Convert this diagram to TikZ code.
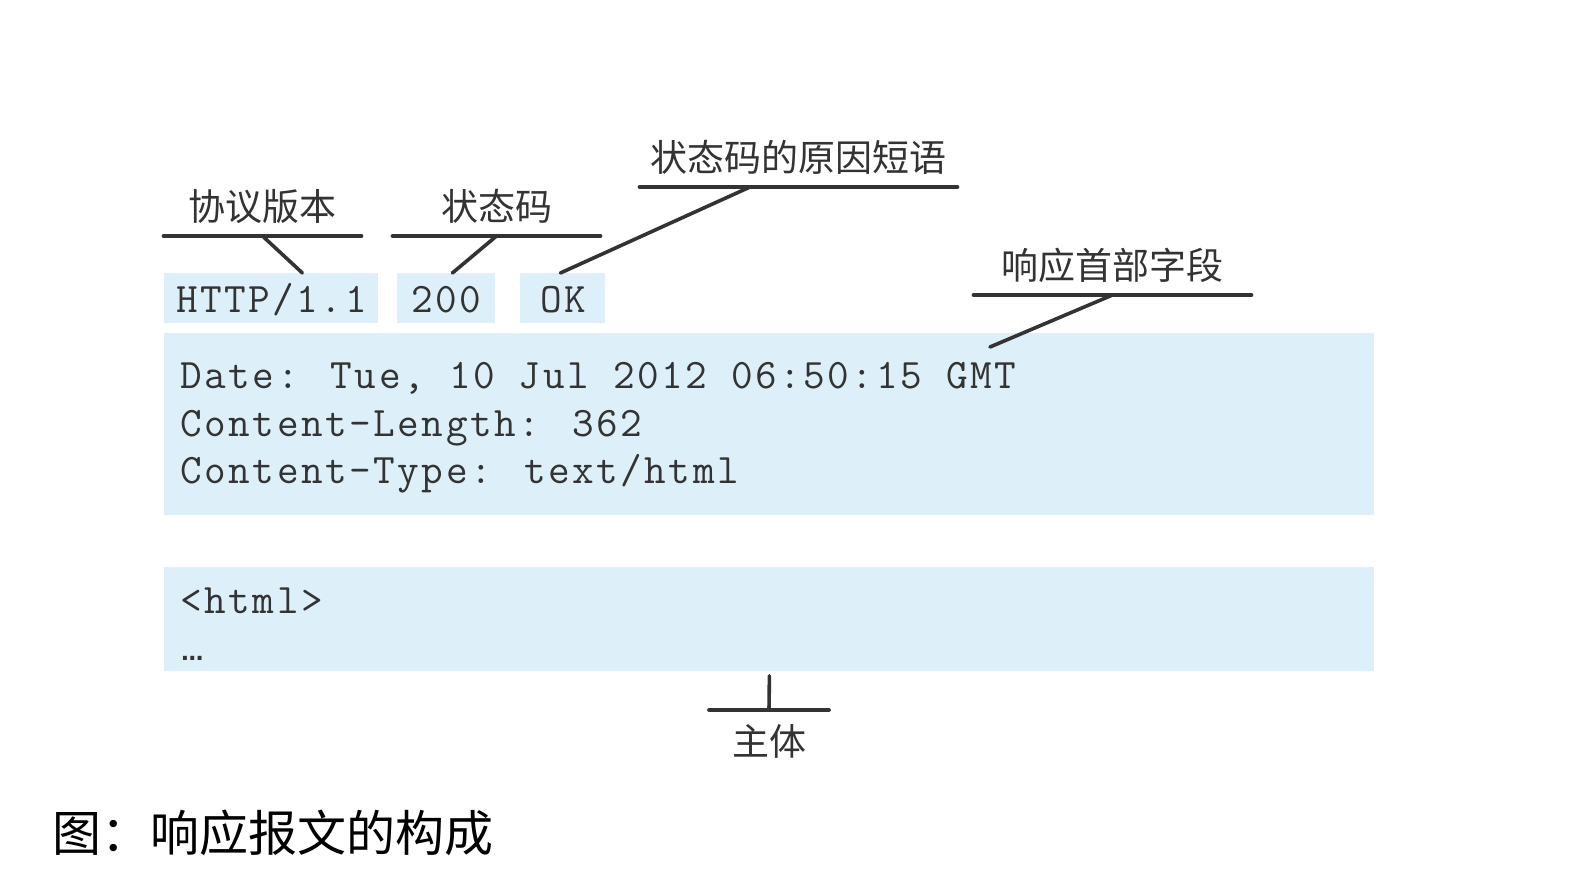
\documentclass[tikz,border=0pt]{standalone}
\usepackage{fontspec}
\newfontfamily\cjk{Noto Sans CJK SC}
\newfontfamily\code{Latin Modern Mono}[LetterSpace=6]
\newfontfamily\dotsfont{DejaVu Sans}
\usetikzlibrary{calc,positioning}
\definecolor{fieldblue}{HTML}{DDEFF9}
\definecolor{labelgray}{HTML}{333333}

\begin{document}
\begin{tikzpicture}[x=0.5pt,y=-0.5pt,
    field/.style={fill=fieldblue,anchor=north west,inner sep=0pt,minimum height=25pt,text=labelgray,
      text height=17pt,text depth=3pt,font=\code\fontsize{21}{24}\selectfont},
    line/.style={anchor=base west,inner sep=0pt,text=labelgray,font=\code\fontsize{21}{24}\selectfont},
    tag/.style={anchor=south,inner sep=0pt,minimum height=29pt,text=labelgray,font=\cjk\fontsize{18.5}{20}\selectfont},
    rule/.style={line width=2pt,line cap=round,labelgray}]
    \useasboundingbox (0,0) rectangle (1570,884);

    % status line
    \node[field,minimum width=107pt] (httpver) at (164,273) {HTTP/1.1};
    \node[field,minimum width=49pt] (code) at (397,273) {200};
    \node[field,minimum width=42.5pt] (phrase) at (520,273) {OK};

    % header fields and body
    \node[field,minimum width=605pt,minimum height=91pt] (headers) at (164,333) {};
    \node[line] (date) at (180,388) {Date: Tue, 10 Jul 2012 06:50:15 GMT};
    \node[line] (clen) at (180,436) {Content-Length: 362};
    \node[line] (ctype) at (180,483) {Content-Type: text/html};
    \node[field,minimum width=605pt,minimum height=52pt] (body) at (164,567) {};
    \node[line] (html) at (180,613) {<html>};
    \node[line,font=\dotsfont\bfseries\fontsize{11}{12}\selectfont] (more) at (181,660) {…};

    % labels
    \node[tag,minimum width=98.5pt] (verlbl) at (262.5,236) {协议版本};
    \node[tag,minimum width=103.5pt] (codelbl) at (496.5,236) {状态码};
    \node[tag,minimum width=158.5pt] (phraselbl) at (798.5,187) {状态码的原因短语};
    \node[tag,minimum width=138.5pt] (hdrlbl) at (1112.5,295) {响应首部字段};
    \node[tag,anchor=north,minimum width=59.5pt,minimum height=31pt] (bodylbl) at (769,710) {主体};

    \draw[rule] (verlbl.south west) -- (verlbl.south east);
    \draw[rule] (codelbl.south west) -- (codelbl.south east);
    \draw[rule] (phraselbl.south west) -- (phraselbl.south east);
    \draw[rule] (hdrlbl.south west) -- (hdrlbl.south east);
    \draw[rule] (bodylbl.north west) -- (bodylbl.north east);

    \draw[rule,line width=1.8pt] (verlbl.south) -- ($(httpver.north)+(31,0)$);
    \draw[rule,line width=1.8pt] (codelbl.south) -- ($(code.north)+(6,0)$);
    \draw[rule,line width=1.8pt] ($(phraselbl.south)+(-48.5,0)$) -- ($(phrase.north)+(-2.5,0)$);
    \draw[rule,line width=1.8pt] (hdrlbl.south) -- ($(headers.north west)+(826,14)$);
    \draw[rule,line width=1.8pt] ($(body.south)+(0,4)$) -- (bodylbl.north);

    \node[anchor=west,inner sep=0pt,font=\cjk\fontsize{24.5}{26}\selectfont] (caption) at (52,833) {图：响应报文的构成};
\end{tikzpicture}
\end{document}
